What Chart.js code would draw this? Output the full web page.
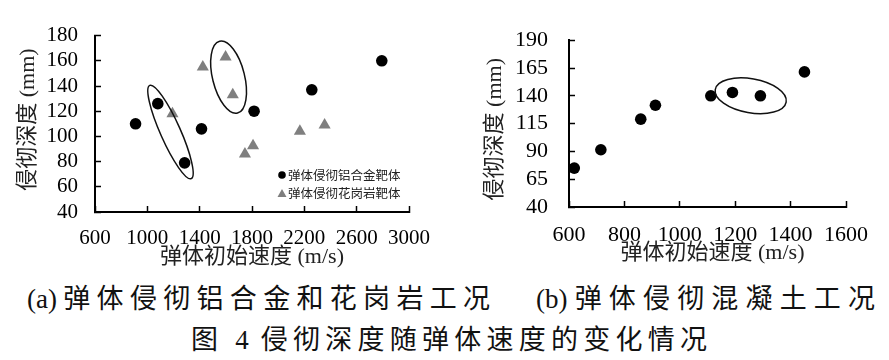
<!DOCTYPE html>
<html>
<head>
<meta charset="utf-8">
<script src="https://cdn.jsdelivr.net/npm/chart.js@4.4.1/dist/chart.umd.min.js"></script>
<style>
  body { margin: 0; background: #fff; }
  #page { position: relative; width: 889px; height: 360px; overflow: hidden; background: #fff; }
  #page canvas { position: absolute; top: 0; }
  #chartA { left: 0; }
  #chartB { left: 450px; }
  .cap { position: absolute; font-family: "Liberation Serif", "Noto Sans CJK SC"; font-size: 27px; line-height: 30px; color: #111; text-align: justify; text-align-last: justify; }
</style>
</head>
<body>
<div id="page">
  <canvas id="chartA" width="450" height="275"></canvas>
  <canvas id="chartB" width="439" height="275"></canvas>
  <div class="cap" style="left:27px; top:284px; width:463px;">(a)弹体侵彻铝合金和花岗岩工况</div>
  <div class="cap" style="left:536px; top:284px; width:339px;">(b)弹体侵彻混凝土工况</div>
  <div class="cap" style="left:191px; top:325px; width:516px;">图 4 侵彻深度随弹体速度的变化情况</div>
</div>
<script>
// (a) aluminium alloy target and granite target
const aluSpeed = [910, 1080, 1285, 1414, 1816, 2257, 2792];
const aluDepth = [110, 126, 79, 106, 120, 137, 160];
const graniteSpeed = [1192, 1424, 1598, 1653, 1746, 1808, 2166, 2355];
const graniteDepth = [118, 155, 163, 133, 86, 92.5, 104, 109];

// (b) concrete target
const concreteSpeed = [619, 715, 859, 912, 1112, 1190, 1291, 1450];
const concreteDepth = [75, 91.5, 119, 131.5, 140, 143, 140, 161.5];

const seriesNames = ['弹体侵彻铝合金靶体', '弹体侵彻花岗岩靶体'];
const xTitle = '弹体初始速度 (m/s)';
const yTitle = '侵彻深度 (mm)';

// hand drawn rings in the figure: centre in data units, radii in px
const ringsA = [
    { x: 1177, y: 103.5, rx: 51, ry: 10, angle: 66 },
    { x: 1621, y: 147, rx: 37, ry: 16, angle: 76 }
];
const ringsB = [
    { x: 1256, y: 140, rx: 36, ry: 17, angle: 10 }
];

const serif = '"Liberation Serif", "Noto Sans CJK SC", serif';

function toPoints(xs, ys) {
    return xs.map((v, i) => ({ x: v, y: ys[i] }));
}

const axisTitles = {
    id: 'axisTitles',
    afterDraw(chart, args, opts) {
        const { ctx, chartArea } = chart;
        ctx.save();
        ctx.fillStyle = '#222';
        ctx.font = '22px ' + serif;
        ctx.textAlign = 'center';
        ctx.textBaseline = 'middle';
        ctx.fillText(xTitle, (chartArea.left + chartArea.right) / 2 + opts.xShift, chartArea.bottom + opts.xGap);
        ctx.translate(chartArea.left - opts.yGap, chartArea.top + opts.yShift);
        ctx.rotate(-Math.PI / 2);
        ctx.fillText(yTitle, 0, 0);
        ctx.restore();
    }
};

const rings = {
    id: 'rings',
    afterDatasetsDraw(chart, args, opts) {
        const { ctx } = chart;
        const xs = chart.scales.x, ys = chart.scales.y;
        ctx.save();
        ctx.strokeStyle = '#111';
        ctx.lineWidth = 1.5;
        (opts.items || []).forEach(r => {
            ctx.beginPath();
            ctx.ellipse(xs.getPixelForValue(r.x), ys.getPixelForValue(r.y), r.rx, r.ry, r.angle * Math.PI / 180, 0, 2 * Math.PI);
            ctx.stroke();
        });
        ctx.restore();
    }
};

const boxLegend = {
    id: 'boxLegend',
    afterDraw(chart, args, opts) {
        if (!opts.show) return;
        const { ctx, chartArea } = chart;
        const left = chartArea.right - 127;
        let y = chartArea.bottom - 37;
        ctx.save();
        ctx.font = '12.5px "Noto Sans CJK SC", sans-serif';
        ctx.textBaseline = 'middle';
        chart.data.datasets.forEach(ds => {
            ctx.fillStyle = ds.backgroundColor;
            ctx.beginPath();
            if (ds.pointStyle === 'triangle') {
                ctx.moveTo(left, y - 4);
                ctx.lineTo(left + 4.5, y + 4);
                ctx.lineTo(left - 4.5, y + 4);
                ctx.closePath();
            } else {
                ctx.arc(left, y, 3.8, 0, 2 * Math.PI);
            }
            ctx.fill();
            ctx.fillStyle = '#222';
            ctx.fillText(ds.label, left + 6, y);
            y += 18;
        });
        ctx.restore();
    }
};

function makeOptions(cfg) {
    const tickFont = { family: serif, size: cfg.tickSize };
    return {
        responsive: false,
        animation: false,
        devicePixelRatio: 1,
        layout: { padding: { left: 0, top: 15, right: cfg.padRight, bottom: 0 } },
        plugins: {
            legend: { display: false },
            tooltip: { enabled: false },
            axisTitles: cfg.titles,
            rings: { items: cfg.rings },
            boxLegend: { show: cfg.legend }
        },
        scales: {
            x: {
                type: 'linear',
                min: cfg.xMin, max: cfg.xMax,
                border: { display: true, color: '#000', width: 2 },
                grid: { drawOnChartArea: false, tickLength: -6, tickColor: '#000', tickWidth: 1.5 },
                ticks: { stepSize: cfg.xStep, autoSkip: false, maxRotation: 0, padding: cfg.xPad, color: '#000', font: tickFont, callback: v => String(v) },
                afterFit: s => { s.height = cfg.xHeight; }
            },
            y: {
                type: 'linear',
                min: cfg.yMin, max: cfg.yMax,
                border: { display: true, color: '#000', width: 2 },
                grid: { drawOnChartArea: false, tickLength: -6, tickColor: '#000', tickWidth: 1.5 },
                ticks: { stepSize: cfg.yStep, autoSkip: false, padding: cfg.yPad, color: '#000', font: tickFont, callback: v => String(v) },
                afterFit: s => { s.width = cfg.yWidth; }
            }
        }
    };
}

new Chart(document.getElementById('chartA'), {
    type: 'scatter',
    data: {
        datasets: [
            {
                label: seriesNames[0],
                data: toPoints(aluSpeed, aluDepth),
                pointStyle: 'circle',
                pointRadius: 5.8,
                backgroundColor: '#000',
                borderColor: '#000',
                borderWidth: 0
            },
            {
                label: seriesNames[1],
                data: toPoints(graniteSpeed, graniteDepth),
                pointStyle: 'triangle',
                pointRadius: 7,
                backgroundColor: '#7f7f7f',
                borderColor: '#7f7f7f',
                borderWidth: 0
            }
        ]
    },
    options: makeOptions({
        padRight: 20, xHeight: 63, yWidth: 95,
        xMin: 600, xMax: 3000, xStep: 400, xPad: 20,
        yMin: 40, yMax: 180, yStep: 20, yPad: 23,
        tickSize: 21,
        titles: { xShift: 0, xGap: 45, yGap: 67, yShift: 84 },
        rings: ringsA,
        legend: true
    }),
    plugins: [axisTitles, rings, boxLegend]
});

new Chart(document.getElementById('chartB'), {
    type: 'scatter',
    data: {
        datasets: [
            {
                label: '弹体侵彻混凝土靶体',
                data: toPoints(concreteSpeed, concreteDepth),
                pointStyle: 'circle',
                pointRadius: 5.8,
                backgroundColor: '#000',
                borderColor: '#000',
                borderWidth: 0
            }
        ]
    },
    options: makeOptions({
        padRight: 38, xHeight: 68, yWidth: 119,
        xMin: 600, xMax: 1600, xStep: 200, xPad: 21,
        yMin: 40, yMax: 190, yStep: 25, yPad: 27,
        tickSize: 22,
        titles: { xShift: 5, xGap: 46, yGap: 74, yShift: 89 },
        rings: ringsB,
        legend: false
    }),
    plugins: [axisTitles, rings, boxLegend]
});
</script>
</body>
</html>
